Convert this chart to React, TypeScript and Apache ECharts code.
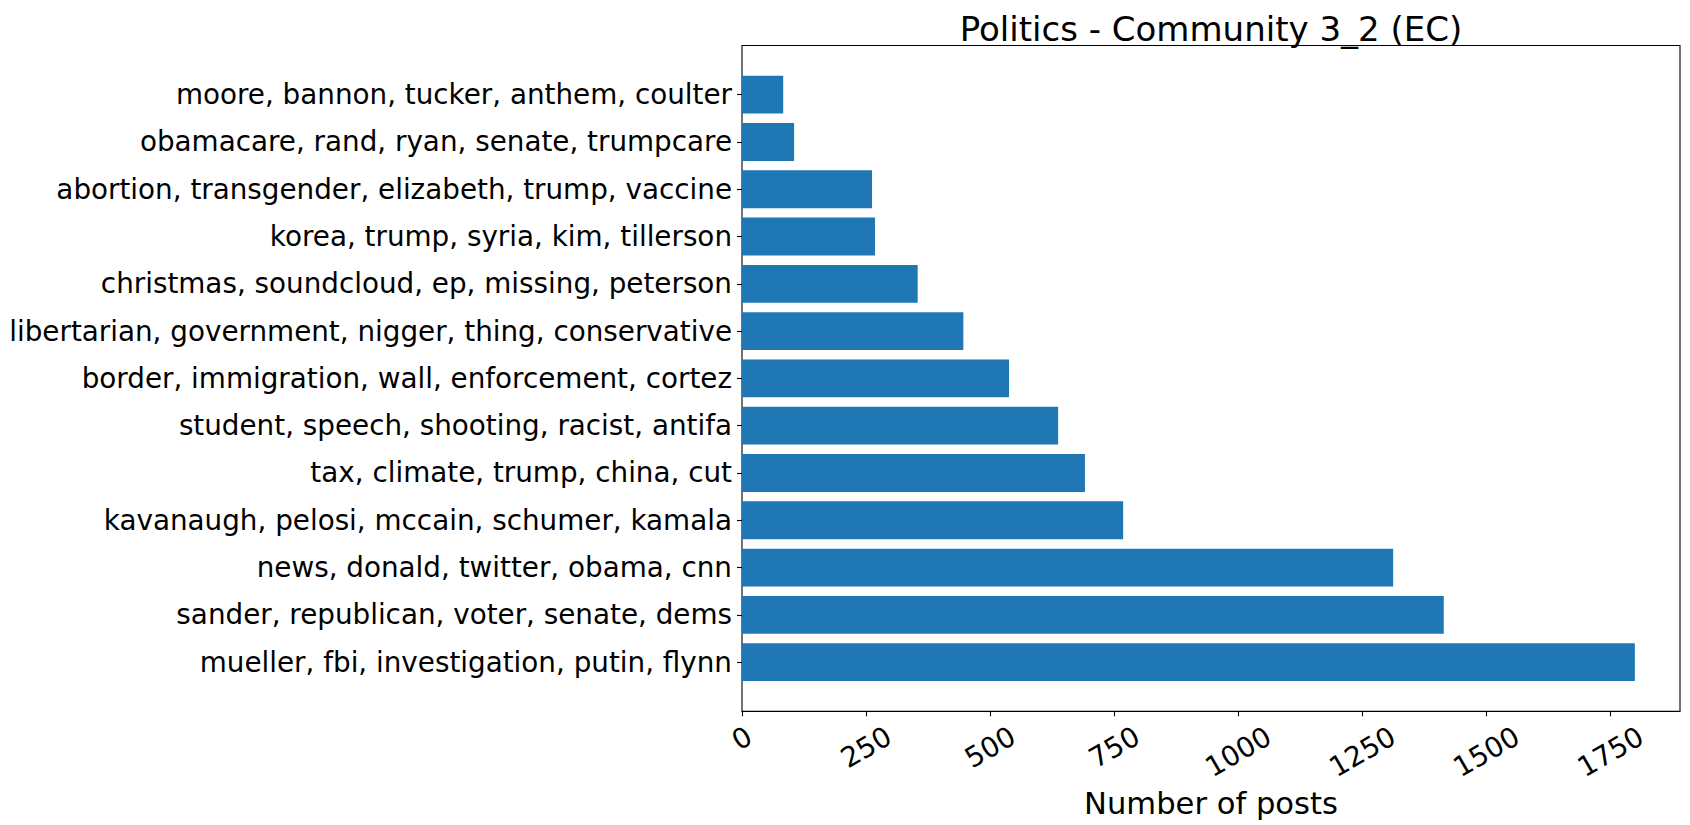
import React, { useEffect, useRef } from "react";
import * as echarts from "echarts";

const categories: string[] = [
  "mueller, fbi, investigation, putin, flynn",
  "sander, republican, voter, senate, dems",
  "news, donald, twitter, obama, cnn",
  "kavanaugh, pelosi, mccain, schumer, kamala",
  "tax, climate, trump, china, cut",
  "student, speech, shooting, racist, antifa",
  "border, immigration, wall, enforcement, cortez",
  "libertarian, government, nigger, thing, conservative",
  "christmas, soundcloud, ep, missing, peterson",
  "korea, trump, syria, kim, tillerson",
  "abortion, transgender, elizabeth, trump, vaccine",
  "obamacare, rand, ryan, senate, trumpcare",
  "moore, bannon, tucker, anthem, coulter",
];

const postCounts: number[] = [1799, 1414, 1312, 768, 691, 637, 538, 446, 354, 268, 262, 105, 83];

const xTicks: number[] = [0, 250, 500, 750, 1000, 1250, 1500, 1750];
const xMax = 1890;

const titleText = "Politics - Community 3_2 (EC)";
const xLabel = "Number of posts";

const FONT = "DejaVu Sans";

export default function App() {
  const ref = useRef<HTMLDivElement>(null);

  useEffect(() => {
    if (!ref.current) return;
    const chart = echarts.init(ref.current, null, { renderer: "svg" });
    const plotLeft = 742;
    const plotRight = 1680;
    const plotTop = 45.5;
    const plotBottom = 711.3;
    const unit = (plotBottom - plotTop) / 14.08;
    const inset = 0.54 * unit;

    chart.setOption({
      animation: false,
      backgroundColor: "#fff",
      graphic: [
        {
          type: "text",
          x: (plotLeft + plotRight) / 2,
          y: 12,
          style: {
            text: titleText,
            font: `34px "${FONT}"`,
            fill: "#000",
            textAlign: "center",
            textVerticalAlign: "top",
          },
        },
      ],
      grid: [
        {
          left: plotLeft,
          right: 1690 - plotRight,
          top: plotTop,
          bottom: 825 - plotBottom,
          show: true,
          borderColor: "#000",
          borderWidth: 1.1,
          backgroundColor: "transparent",
        },
        {
          left: plotLeft,
          right: 1690 - plotRight,
          top: plotTop + inset,
          bottom: 825 - plotBottom + inset,
        },
      ],
      xAxis: [
        {
          gridIndex: 0,
          type: "value",
          min: 0,
          max: xMax,
          splitLine: { show: false },
          axisLine: { show: true, lineStyle: { color: "#000", width: 1.1 } },
          axisTick: {
            show: true,
            length: 5,
            customValues: xTicks,
            lineStyle: { color: "#000", width: 1.1 },
          },
          axisLabel: {
            customValues: xTicks,
            rotate: 30,
            align: "center",
            verticalAlign: "middle",
            margin: 27,
            color: "#000",
            fontSize: 27.8,
            fontFamily: FONT,
            formatter: (v: number) => `{d${String(v).length}|${v}}`,
            rich: {
              d1: { fontSize: 27.8, fontFamily: FONT, color: "#000", padding: [0, 0, 0, 0] },
              d3: { fontSize: 27.8, fontFamily: FONT, color: "#000", padding: [15.6, 9, 0, 0] },
              d4: { fontSize: 27.8, fontFamily: FONT, color: "#000", padding: [23.4, 13.5, 0, 0] },
            },
          },
          name: xLabel,
          nameLocation: "middle",
          nameGap: 72,
          nameTextStyle: { fontSize: 30.6, color: "#000", fontFamily: FONT },
        },
        {
          gridIndex: 1,
          type: "value",
          min: 0,
          max: xMax,
          show: false,
        },
      ],
      yAxis: [
        { gridIndex: 0, type: "value", min: 0, max: 1, show: false },
        {
          gridIndex: 1,
          type: "category",
          data: categories,
          axisLine: { show: false },
          axisTick: {
            show: true,
            length: 5,
            alignWithLabel: true,
            interval: 0,
            lineStyle: { color: "#000", width: 1.1 },
          },
          axisLabel: {
            interval: 0,
            margin: 10,
            color: "#000",
            fontSize: 27.8,
            fontFamily: FONT,
          },
          splitLine: { show: false },
        },
      ],
      series: [
        {
          type: "bar",
          xAxisIndex: 1,
          yAxisIndex: 1,
          data: postCounts,
          barWidth: "80%",
          itemStyle: { color: "#1f77b4" },
        },
      ],
    });
    return () => chart.dispose();
  }, []);

  return (
    <div
      ref={ref}
      style={{ position: "fixed", left: 0, top: 0, width: 1690, height: 825, background: "#fff" }}
    />
  );
}
